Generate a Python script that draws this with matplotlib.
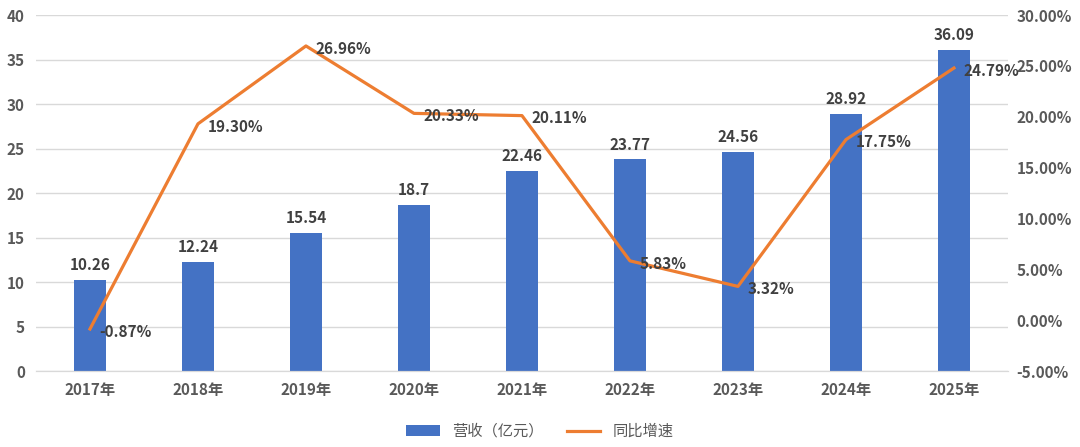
import numpy as np
import matplotlib.pyplot as plt
from matplotlib.ticker import FuncFormatter

plt.rcParams['font.family'] = ['Noto Sans CJK SC', 'DejaVu Sans']

# 数据
years = ['2017年', '2018年', '2019年', '2020年', '2021年', '2022年', '2023年', '2024年', '2025年']
revenue = [10.26, 12.24, 15.54, 18.7, 22.46, 23.77, 24.56, 28.92, 36.09]
growth = [-0.87, 19.30, 26.96, 20.33, 20.11, 5.83, 3.32, 17.75, 24.79]
revenue_labels = ['10.26', '12.24', '15.54', '18.7', '22.46', '23.77', '24.56', '28.92', '36.09']

bar_color = '#4472C4'
line_color = '#ED7D31'
text_color = '#595959'
label_color = '#404040'

fig = plt.figure(figsize=(10.8, 4.47), dpi=100)
ax = fig.add_axes([0.0333, 0.17, 0.9, 0.7964])
ax2 = ax.twinx()

x = np.arange(len(years))
bars = ax.bar(x, revenue, width=0.29, color=bar_color, label='营收（亿元）', zorder=2)
ax.set_ylim(0, 40)
ax.set_yticks(range(0, 41, 5))
ax.set_xlim(-0.5, len(years) - 0.5)
ax.set_xticks(x)
ax.set_xticklabels(years)
ax.grid(axis='y', color='#D9D9D9', linewidth=1, zorder=0)
ax.set_axisbelow(True)

for xi, v, s in zip(x, revenue, revenue_labels):
    ax.annotate(s, (xi, v), xytext=(0, 5), textcoords='offset points',
                ha='center', va='bottom', fontsize=11, fontweight='bold', color=label_color)

line, = ax2.plot(x, growth, color=line_color, linewidth=2.3, label='同比增速', zorder=3)
ax2.set_ylim(-5, 30)
ax2.set_yticks(range(-5, 31, 5))
ax2.yaxis.set_major_formatter(FuncFormatter(lambda v, p: f'{v:.2f}%'))

for xi, g in zip(x, growth):
    ax2.annotate(f'{g:.2f}%', (xi, g), xytext=(7, -2), textcoords='offset points',
                 ha='left', va='center', fontsize=11, fontweight='bold', color=label_color)

for a in (ax, ax2):
    for side in ['top', 'left', 'right']:
        a.spines[side].set_visible(False)
    a.spines['bottom'].set_color('#D9D9D9')
    a.tick_params(length=0, labelsize=11, labelcolor=text_color)
    for lbl in a.get_xticklabels() + a.get_yticklabels():
        lbl.set_fontweight('bold')
ax.tick_params(axis='x', pad=8)
ax.tick_params(axis='y', pad=8)
ax2.tick_params(axis='y', pad=6)

fig.legend(handles=[bars, line], loc='center', bbox_to_anchor=(0.5, 0.035), ncol=2,
           frameon=False, fontsize=11, labelcolor=text_color, handlelength=2.2,
           columnspacing=1.5)

fig.savefig('out.png', dpi=100)
